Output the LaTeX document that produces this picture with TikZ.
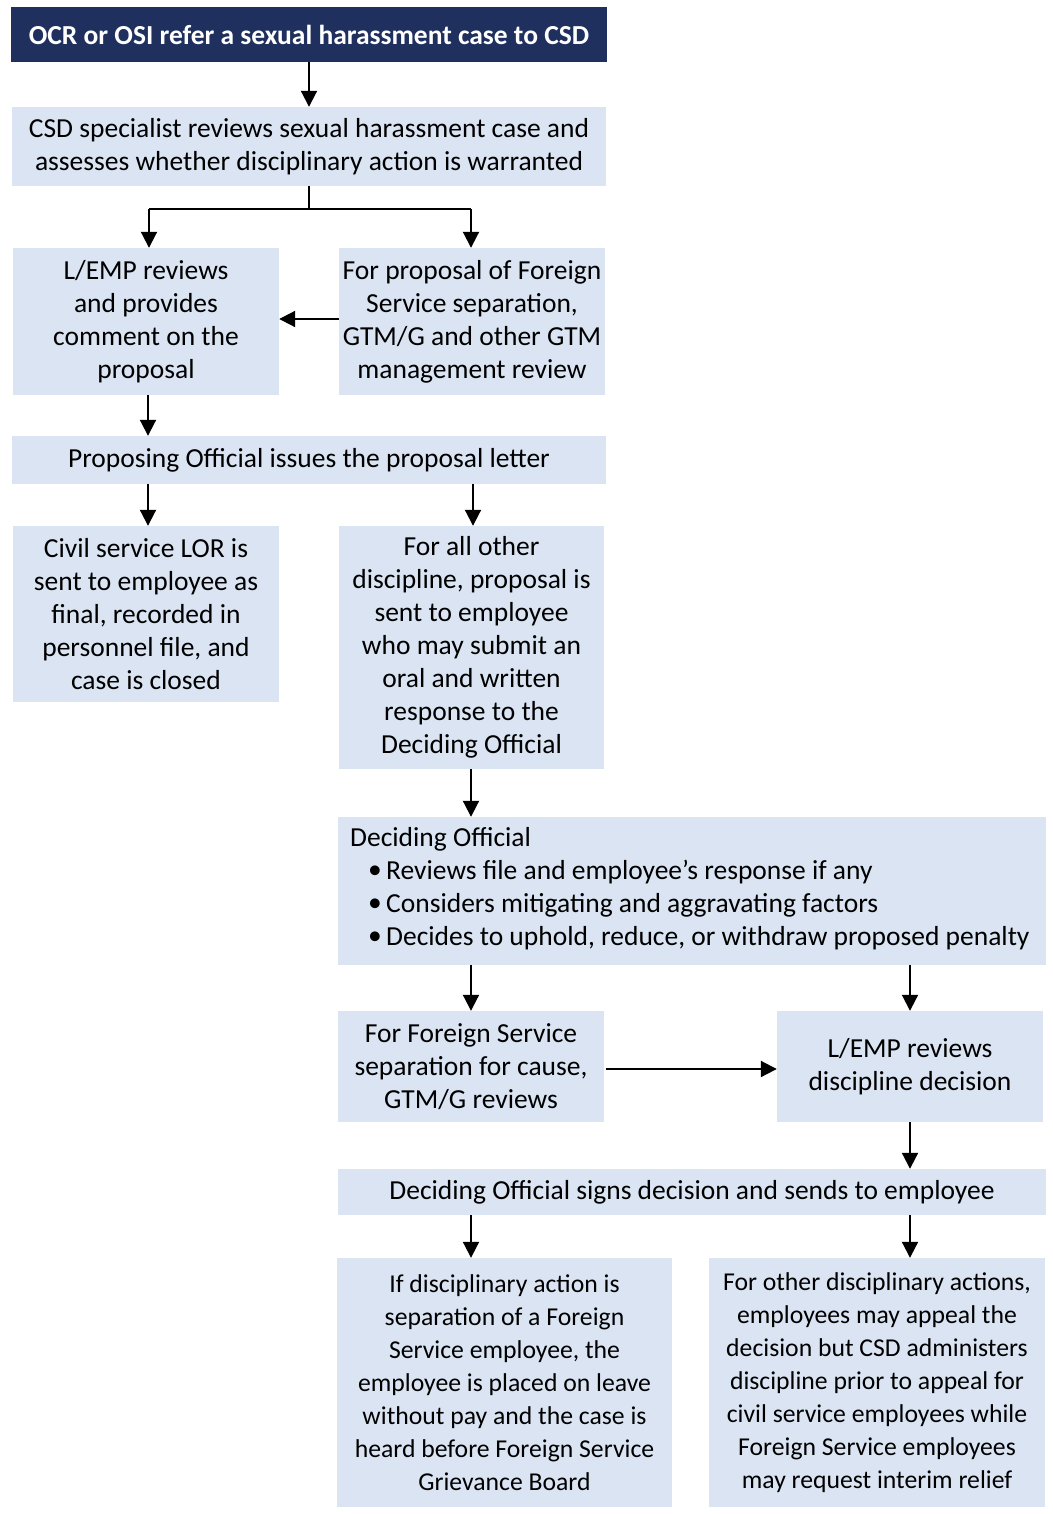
\documentclass[tikz,border=0pt]{standalone}
\usepackage{fontspec}
\setmainfont{Carlito}
\usetikzlibrary{arrows.meta}
\definecolor{navy}{RGB}{31,48,94}
\definecolor{lblue}{RGB}{218,228,242}
\tikzset{
  box/.style={fill=lblue, draw=none, inner sep=0pt, align=center, font=\fontsize{27.5}{33}\selectfont},
  narrowbox/.style={box, font=\fontsize{25.7}{33}\selectfont},
  darkbox/.style={fill=navy, draw=none, inner sep=0pt, align=center, text=white, font=\fontsize{27.5}{33}\selectfont\bfseries},
  plain/.style={inner sep=0pt, anchor=west, font=\fontsize{27.5}{33}\selectfont},
  arr/.style={-{Triangle[length=16pt,width=16pt]}, line width=2pt},
}
\begin{document}
\begin{tikzpicture}[x=1pt,y=-1pt]
\useasboundingbox (0,0) rectangle (1052,1514);
% boxes
\node[darkbox, minimum width=596pt, minimum height=55pt] (n1) at (309,34.5) {OCR or OSI refer a sexual harassment case to CSD};
\node[box, minimum width=594pt, minimum height=79pt] (n2) at (309,146.5) {CSD specialist reviews sexual harassment case and\\assesses whether disciplinary action is warranted};
\node[box, minimum width=266pt, minimum height=147pt] (n3) at (146,321.5) {L/EMP reviews\\and provides\\comment on the\\proposal};
\node[box, minimum width=266pt, minimum height=147pt] (n4) at (472,321.5) {For proposal of Foreign\\Service separation,\\GTM/G and other GTM\\management review};
\node[box, minimum width=594pt, minimum height=48pt] (n5) at (309,460) {Proposing Official issues the proposal letter};
\node[box, minimum width=266pt, minimum height=176pt] (n6) at (146,614) {Civil service LOR is\\sent to employee as\\final, recorded in\\personnel file, and\\case is closed};
\node[box, minimum width=265pt, minimum height=243pt] (n7) at (471.5,647.5) {For all other\\discipline, proposal is\\sent to employee\\who may submit an\\oral and written\\response to the\\Deciding Official};
\node[box, minimum width=708pt, minimum height=148pt] (n8) at (692,891) {};
\node[plain] (t0) at (350,839) {Deciding Official};
\node[plain] (b1) at (368,872) {\textbullet};
\node[plain] (t1) at (386,872) {Reviews file and employee’s response if any};
\node[plain] (b2) at (368,905) {\textbullet};
\node[plain] (t2) at (386,905) {Considers mitigating and aggravating factors};
\node[plain] (b3) at (368,938) {\textbullet};
\node[plain] (t3) at (386,938) {Decides to uphold, reduce, or withdraw proposed penalty};
\node[box, minimum width=266pt, minimum height=111pt] (n9) at (471,1066.5) {For Foreign Service\\separation for cause,\\GTM/G reviews};
\node[box, minimum width=266pt, minimum height=111pt] (n10) at (910,1066.5) {L/EMP reviews\\discipline decision};
\node[box, minimum width=708pt, minimum height=46pt] (n11) at (692,1192) {Deciding Official signs decision and sends to employee};
\node[narrowbox, minimum width=335pt, minimum height=249pt] (n12) at (504.5,1382.5) {If disciplinary action is\\separation of a Foreign\\Service employee, the\\employee is placed on leave\\without pay and the case is\\heard before Foreign Service\\Grievance Board};
\node[narrowbox, minimum width=336pt, minimum height=249pt] (n13) at (877,1382.5) {For other disciplinary actions,\\employees may appeal the\\decision but CSD administers\\discipline prior to appeal for\\civil service employees while\\Foreign Service employees\\may request interim relief};
% connectors
\draw[line width=2pt] (n2.south) -- (309,209) coordinate (j1);
\coordinate (jl) at (149,209);
\coordinate (jr) at (471,209);
\draw[arr] (n1.south) -- (n2.north);
\draw[line width=2pt] (jl) -- (jr);
\draw[arr] (jl) -- (jl |- n3.north);
\draw[arr] (jr) -- (jr |- n4.north);
\draw[arr] ([yshift=2.5pt]n4.west) -- ([yshift=2.5pt]n3.east);
\draw[arr] (n3.south -| 148,0) -- (n5.north -| 148,0);
\draw[arr] (n5.south -| 148,0) -- (n6.north -| 148,0);
\draw[arr] (n5.south -| 473,0) -- (n7.north -| 473,0);
\draw[arr] (n7.south -| 471,0) -- (n8.north -| 471,0);
\draw[arr] (n8.south -| 471,0) -- (n9.north -| 471,0);
\draw[arr] (n8.south -| 910,0) -- (n10.north -| 910,0);
\draw[arr] ([xshift=2pt,yshift=-2.5pt]n9.east) -- ([yshift=-2.5pt]n10.west);
\draw[arr] (n10.south -| 910,0) -- (n11.north -| 910,0);
\draw[arr] (n11.south -| 471,0) -- (n12.north -| 471,0);
\draw[arr] (n11.south -| 910,0) -- (n13.north -| 910,0);
\end{tikzpicture}
\end{document}
